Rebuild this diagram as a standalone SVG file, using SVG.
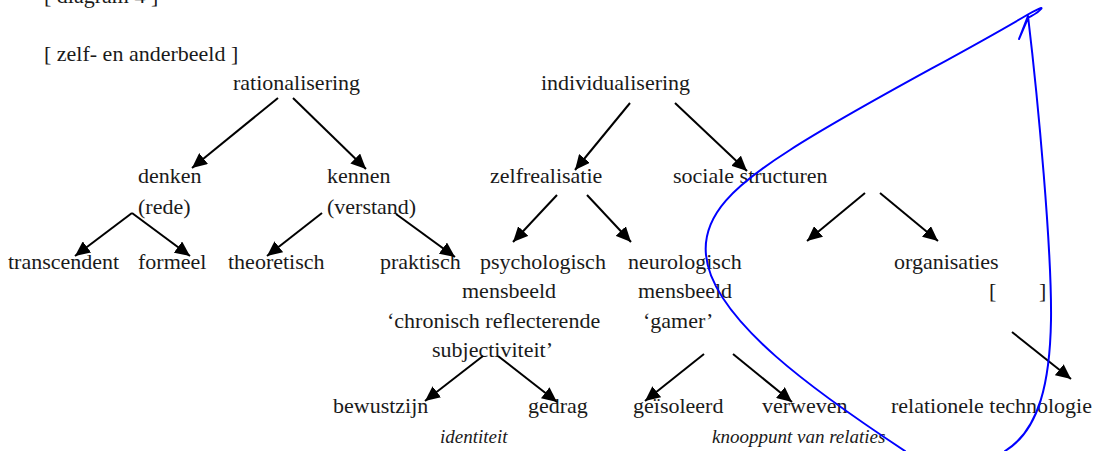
<svg xmlns="http://www.w3.org/2000/svg" width="1100" height="451" viewBox="0 0 1100 451">
<defs>
<style>
.t text{font-size:22px;fill:#1a1a1a}
.t text.it{font-style:italic;font-size:19px}
.conn line{stroke:#000;stroke-width:2;fill:none;marker-end:url(#ah)}
.ink{stroke:#0000ff;stroke-width:2;fill:none;stroke-linecap:round;stroke-linejoin:round}
</style>
<marker id="ah" markerWidth="16" markerHeight="14" refX="15" refY="7" orient="auto" markerUnits="userSpaceOnUse"><path d="M0,0 L15,7 L0,14 z" fill="#000"/></marker>
</defs>
<rect width="1100" height="451" fill="#fff"/>
<g class="t" font-family="Liberation Serif, DejaVu Serif, serif">
<g id="title"><text x="44" y="3">[ diagram 4 ]</text></g>
<g id="subtitle"><text x="44" y="61">[ zelf- en anderbeeld ]</text></g>
<g id="n-rationalisering"><text x="233" y="90">rationalisering</text></g>
<g id="n-individualisering"><text x="541" y="90">individualisering</text></g>
<g id="n-denken"><text x="138" y="183">denken</text><text x="138" y="214">(rede)</text></g>
<g id="n-kennen"><text x="327" y="183">kennen</text><text x="327" y="214">(verstand)</text></g>
<g id="n-zelfrealisatie"><text x="490" y="183">zelfrealisatie</text></g>
<g id="n-sociale"><text x="673" y="183">sociale structuren</text></g>
<g id="n-transcendent"><text x="8" y="269">transcendent</text></g>
<g id="n-formeel"><text x="138" y="269">formeel</text></g>
<g id="n-theoretisch"><text x="228" y="269">theoretisch</text></g>
<g id="n-praktisch"><text x="380" y="269">praktisch</text></g>
<g id="n-psych"><text x="480" y="269">psychologisch</text><text x="462" y="298">mensbeeld</text><text x="387" y="328">‘chronisch reflecterende</text><text x="432" y="357">subjectiviteit’</text></g>
<g id="n-neuro"><text x="628" y="269">neurologisch</text><text x="638" y="298">mensbeeld</text><text x="643" y="328">‘gamer’</text></g>
<g id="n-organisaties"><text x="894" y="269">organisaties</text><text y="298"><tspan x="989">[</tspan><tspan x="1039">]</tspan></text></g>
<g id="n-bewustzijn"><text x="333" y="413">bewustzijn</text></g>
<g id="n-gedrag"><text x="528" y="413">gedrag</text></g>
<g id="n-identiteit"><text class="it" x="440" y="443">identiteit</text></g>
<g id="n-geisoleerd"><text x="633" y="413">geïsoleerd</text></g>
<g id="n-verweven"><text x="762" y="413">verweven</text></g>
<g id="n-knooppunt"><text class="it" x="712" y="443">knooppunt van relaties</text></g>
<g id="n-relationele"><text x="891" y="413">relationele technologie</text></g>
</g>
<g id="connectors" class="conn">
<line x1="278" y1="98" x2="192" y2="168"/>
<line x1="293" y1="98" x2="366" y2="169"/>
<line x1="132" y1="213" x2="75" y2="256"/>
<line x1="132" y1="213" x2="190" y2="256"/>
<line x1="322" y1="213" x2="267" y2="256"/>
<line x1="396" y1="214" x2="455" y2="257"/>
<line x1="630" y1="103" x2="575" y2="170"/>
<line x1="675" y1="103" x2="747" y2="171"/>
<line x1="557" y1="195" x2="513" y2="242"/>
<line x1="587" y1="195" x2="631" y2="242"/>
<line x1="865" y1="193" x2="807" y2="241"/>
<line x1="880" y1="193" x2="938" y2="241"/>
<line x1="483" y1="356" x2="425" y2="401"/>
<line x1="498" y1="356" x2="557" y2="402"/>
<line x1="704" y1="354" x2="645" y2="401"/>
<line x1="733" y1="354" x2="792" y2="402"/>
<line x1="1012" y1="332" x2="1071" y2="379"/>
</g>
<g id="ink">
<path class="ink" d="M905,451 C820,395 712,320 706,255 C702,215 735,185 790,150 C860,105 960,55 1027,15 C1034,11 1044,6 1041,9 C1038,13 1031,16 1028,18 L1019,39 L1028,16 C1038,100 1052,250 1051,320 C1050,380 1040,430 1005,451"/>
</g>
</svg>
